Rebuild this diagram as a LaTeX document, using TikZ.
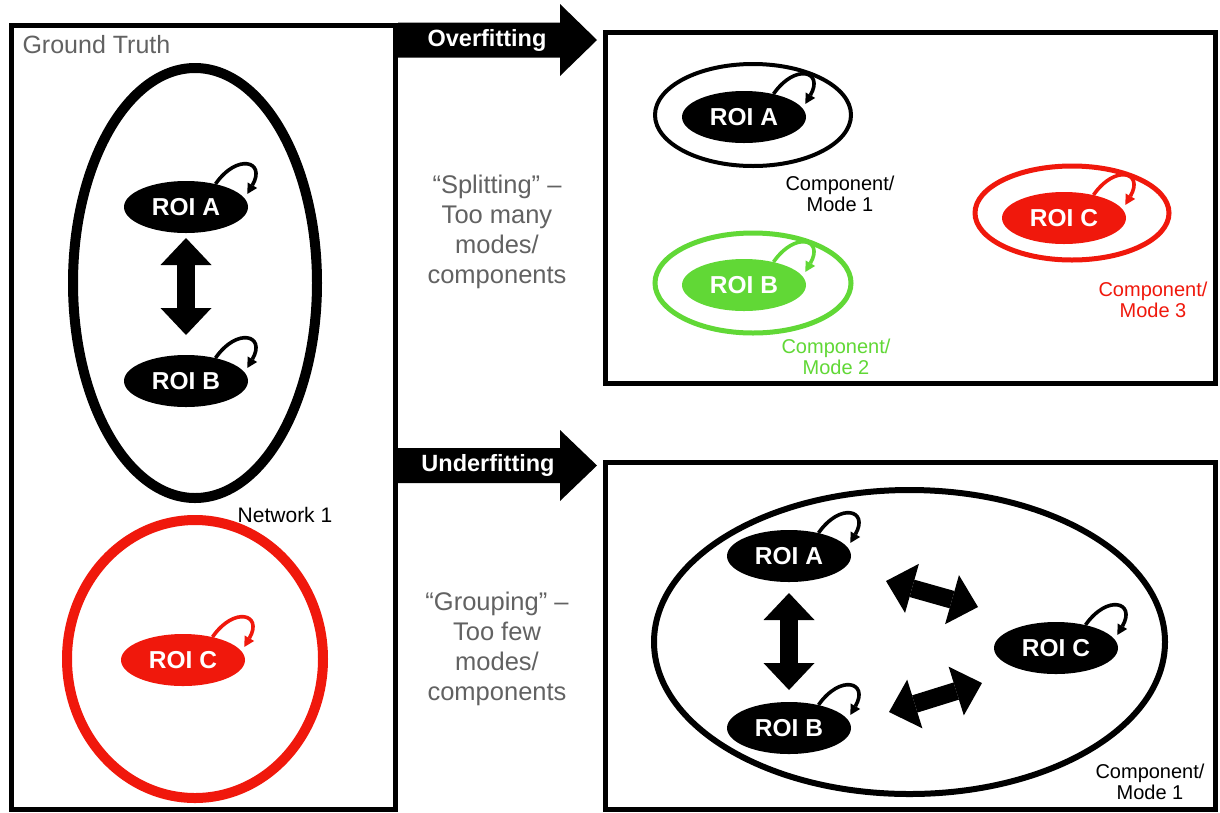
\documentclass[tikz,border=0pt]{standalone}
\usepackage{fontspec}
\setmainfont{Liberation Sans}
\usetikzlibrary{shapes.geometric,arrows.meta,calc}
\definecolor{kred}{RGB}{240,24,12}
\definecolor{kgreen}{RGB}{97,216,54}
\definecolor{kgray}{RGB}{98,98,98}
\newcommand\roiloop[2]{\draw[selfloop,#2] (#1.38) .. controls +(55:38) and +(60:38) .. ([shift={(4pt,3pt)}]#1.10);}
\begin{document}
\begin{tikzpicture}[x=1pt,y=1pt,
  roi/.style={ellipse, fill=#1, minimum width=124pt, minimum height=52pt, inner sep=0pt, text=white, font=\fontsize{24.5}{28}\selectfont\bfseries},
  roi/.default=black,
  ring/.style={ellipse, draw=#1, inner sep=0pt},
  frame/.style={draw, line width=5pt},
  selfloop/.style={line width=3.6pt, -{Triangle[length=10pt,width=11pt,line width=0pt]}},
  bigarrow/.style={line width=18pt, >={Triangle[length=27pt,width=51pt,line width=0pt]}, <->},
  graytext/.style={text=kgray, align=center, font=\fontsize{25.5}{30}\selectfont},
  comptext/.style={align=center, font=\fontsize{20}{21}\selectfont},
  fitarrow/.style={fill=black},
  fitlabel/.style={text=white, font=\fontsize{23.5}{26}\selectfont\bfseries}
]
\useasboundingbox (0,0) rectangle (1220,-812);
\fill[white] (0,0) rectangle (1220,-812);

% frames
\draw[frame] (11,-25.5) rectangle (395.5,-809);
\draw[frame] (605.5,-32.5) rectangle (1215,-383.5);
\draw[frame] (605.5,-462.5) rectangle (1215,-809.5);

% ---------- Ground truth panel ----------
\node[text=kgray, anchor=west, font=\fontsize{25}{28}\selectfont] (gt) at (19,-45) {Ground Truth};
\node[ring=black, line width=10pt, minimum width=244pt, minimum height=430pt] (net1) at (195,-283) {};
\node[ring=kred, line width=10pt, minimum width=256pt, minimum height=278pt] (net2) at (195,-659) {};
\node[font=\fontsize{21}{24}\selectfont] (n1lab) at (285,-515) {Network 1};

\node[roi] (A1) at (186,-207) {ROI A};
\node[roi] (B1) at (186,-381) {ROI B};
\node[roi=kred] (C1) at (183,-660) {ROI C};
\roiloop{A1}{black}
\roiloop{B1}{black}
\roiloop{C1}{kred}
\draw[bigarrow, shorten <=31pt, shorten >=46pt] (A1.center) -- (B1.center);

% ---------- middle arrows and texts ----------
\fill[fitarrow] (398,-22.5) -- (560,-22.5) -- (560,-4) -- (597,-40) -- (560,-76) -- (560,-57.5) -- (398,-57.5) -- cycle;
\node[fitlabel] (ovl) at (487,-40) {Overfitting};
\fill[fitarrow] (398,-448) -- (560,-448) -- (560,-430) -- (597,-465.5) -- (560,-501) -- (560,-483) -- (398,-483) -- cycle;
\node[fitlabel] (unl) at (488,-465.5) {Underfitting};

\node[graytext] (split) at (497,-232) {\char"201C Splitting\char"201D\ \char"2013\\Too many\\modes/\\components};
\node[graytext] (group) at (497,-649) {\char"201C Grouping\char"201D\ \char"2013\\Too few\\modes/\\components};

% ---------- Overfitting panel ----------
\node[ring=black, line width=4pt, minimum width=196pt, minimum height=102pt] (m1) at (753,-115) {};
\node[ring=kgreen, line width=5pt, minimum width=196pt, minimum height=100pt] (m2) at (753,-283) {};
\node[ring=kred, line width=5pt, minimum width=194pt, minimum height=94pt] (m3) at (1072,-213) {};
\node[roi] (A3) at (744,-117) {ROI A};
\node[roi=kgreen] (B3) at (744,-285) {ROI B};
\node[roi=kred] (C3) at (1064,-218) {ROI C};
\roiloop{A3}{black}
\roiloop{B3}{kgreen}
\roiloop{C3}{kred}
\node[comptext] (m1lab) at (840,-194) {Component/\\Mode 1};
\node[comptext, text=kgreen] (m2lab) at (836,-357) {Component/\\Mode 2};
\node[comptext, text=kred] (m3lab) at (1153,-300) {Component/\\Mode 3};

% ---------- Underfitting panel ----------
\node[ring=black, line width=6pt, minimum width=511pt, minimum height=304pt] (big) at (909.5,-642) {};
\node[roi] (A2) at (789,-556) {ROI A};
\node[roi] (B2) at (789,-728) {ROI B};
\node[roi] (C2) at (1056,-648) {ROI C};
\roiloop{A2}{black}
\roiloop{B2}{black}
\roiloop{C2}{black}
\draw[bigarrow, shorten <=37pt, shorten >=38pt] (A2.center) -- (B2.center);
\draw[bigarrow] ([shift={(97,-25)}]A2.center) -- ([shift={(-78,41)}]C2.center);
\draw[bigarrow] ([shift={(100,16)}]B2.center) -- ([shift={(-74,-35)}]C2.center);
\node[comptext] (m4lab) at (1150,-782) {Component/\\Mode 1};
\end{tikzpicture}
\end{document}
